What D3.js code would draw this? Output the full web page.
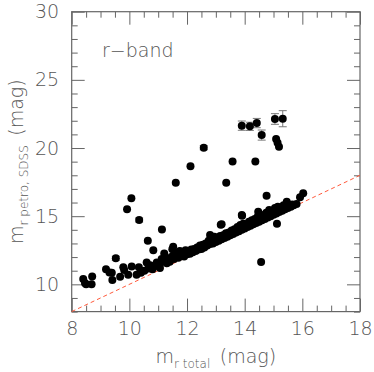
<!DOCTYPE html>
<html>
<head>
<meta charset="utf-8">
<script src="https://cdn.jsdelivr.net/npm/d3@7"></script>
<style>
  body { margin: 0; background: #fff; }
  text { font-family: "DejaVu Sans", sans-serif; font-weight: 200; fill: #555; }
</style>
</head>
<body>
<script>
// main band of galaxies (m_r total, m_r petro SDSS)
const bandTotal = [8.40,8.46,8.50,8.71,8.69,9.19,9.31,9.41,9.39,9.68,9.82,9.79,9.96,10.08,10.25,10.33,10.40,10.52,10.60,10.66,10.72,10.80,10.89,10.95,11.06,11.06,11.12,11.21,11.24,11.30,11.35,11.40,11.47,11.49,11.52,11.55,11.60,11.65,11.70,11.75,11.80,11.85,11.90,11.95,12.00,12.05,12.10,12.15,12.20,12.25,12.30,12.35,12.40,12.45,12.50,12.55,12.60,12.65,12.70,12.75,12.80,12.80,12.85,12.90,12.95,13.00,13.05,13.10,13.15,13.20,13.20,13.25,13.30,13.35,13.40,13.45,13.50,13.55,13.60,13.65,13.70,13.75,13.80,13.85,13.90,13.90,13.95,14.00,14.05,14.10,14.15,14.20,14.25,14.30,14.35,14.40,14.45,14.47,14.50,14.55,14.60,14.65,14.70,14.75,14.80,14.85,14.90,14.95,15.00,15.05,15.10,15.15,15.20,15.25,15.30,15.35,15.40,15.46,15.50,15.55,15.60,15.65,15.70,15.80,15.92,16.03];
const bandPetro = [10.40,10.10,10.00,10.58,10.00,11.10,10.86,10.32,10.85,10.55,11.05,11.25,10.70,11.30,10.70,11.25,10.85,11.00,11.60,11.17,11.40,11.10,11.34,11.60,11.49,11.20,11.85,12.27,11.78,11.55,11.90,11.65,12.03,12.57,12.76,11.85,12.10,12.30,11.95,12.45,12.10,12.30,12.05,12.50,12.20,12.40,12.25,12.55,12.35,12.60,12.45,12.70,12.55,12.85,12.60,12.90,12.70,13.00,12.85,13.20,13.62,12.95,13.25,13.00,13.50,13.10,13.40,13.20,13.55,14.40,13.30,13.60,13.40,13.75,13.50,13.80,13.60,13.95,13.70,14.05,13.80,14.20,13.90,14.35,15.08,14.00,14.45,14.10,14.40,14.20,14.60,14.30,14.70,14.40,14.80,14.50,14.95,15.33,14.60,15.10,14.70,15.00,14.80,15.25,14.90,15.45,15.00,15.35,15.10,15.60,15.20,15.70,15.30,15.50,15.40,15.80,15.50,16.06,15.60,15.75,15.70,15.85,15.80,15.90,16.38,16.68];

// outliers without visible error bars
const outTotal = [15.09,15.14,15.19,12.12,13.58,14.37,11.61,13.36,10.07,9.92,11.13,14.76,13.91,13.17,10.64,15.12,14.57,10.83];
const outPetro = [20.66,20.39,20.10,18.66,19.02,19.02,17.46,17.46,16.31,15.50,14.03,16.50,15.04,14.38,13.20,14.45,11.64,12.50];

// points with error bars
const errTotal = [13.90,14.18,14.42,14.59,15.05,15.32,12.58,10.34,9.53];
const errPetro = [21.64,21.59,21.83,20.95,22.13,22.15,20.02,14.72,11.91];
const errSize  = [0.34,0.30,0.34,0.37,0.39,0.59,0.15,0.15,0.15];

const xMajor = [8,10,12,14,16,18];
const yMajor = [10,15,20,25,30];

const width = 374, height = 372;
const axisCol = "#666";

svg = d3.select("body").append("svg")
    .attr("width", width)
    .attr("height", height);

x = d3.scaleLinear().domain([8, 18]).range([71.7, 360]);
y = d3.scaleLinear().domain([8, 30]).range([311.6, 11.7]);

const xMinor = d3.range(8, 18.01, 0.5).filter(v => v % 2 !== 0);
const yMinor = d3.range(8, 30.01, 1).filter(v => v % 5 !== 0);

function styleAxis(g) {
    g.select(".domain").remove();
    g.selectAll("line").attr("stroke", axisCol).attr("stroke-width", 1);
    g.selectAll("text").style("font-size", "19px").attr("fill", "#555");
}

// bottom
svg.append("g").attr("transform", "translate(0," + y.range()[0] + ")")
    .call(d3.axisBottom(x).tickValues(xMajor).tickSize(-13).tickPadding(10).tickFormat(d3.format("d")))
    .call(styleAxis);
svg.append("g").attr("transform", "translate(0," + y.range()[0] + ")")
    .call(d3.axisBottom(x).tickValues(xMinor).tickSize(-6).tickFormat(""))
    .call(styleAxis);
// top
svg.append("g").attr("transform", "translate(0," + y.range()[1] + ")")
    .call(d3.axisTop(x).tickValues(xMajor).tickSize(-13).tickFormat(""))
    .call(styleAxis);
svg.append("g").attr("transform", "translate(0," + y.range()[1] + ")")
    .call(d3.axisTop(x).tickValues(xMinor).tickSize(-6).tickFormat(""))
    .call(styleAxis);
// left
svg.append("g").attr("transform", "translate(" + x.range()[0] + ",0)")
    .call(d3.axisLeft(y).tickValues(yMajor).tickSize(-13).tickPadding(12.5).tickFormat(d3.format("d")))
    .call(styleAxis);
svg.append("g").attr("transform", "translate(" + x.range()[0] + ",0)")
    .call(d3.axisLeft(y).tickValues(yMinor).tickSize(-6).tickFormat(""))
    .call(styleAxis);
// right
svg.append("g").attr("transform", "translate(" + x.range()[1] + ",0)")
    .call(d3.axisRight(y).tickValues(yMajor).tickSize(-13).tickFormat(""))
    .call(styleAxis);
svg.append("g").attr("transform", "translate(" + x.range()[1] + ",0)")
    .call(d3.axisRight(y).tickValues(yMinor).tickSize(-6).tickFormat(""))
    .call(styleAxis);

// frame
svg.append("rect")
    .attr("x", x.range()[0]).attr("y", y.range()[1])
    .attr("width", x.range()[1] - x.range()[0])
    .attr("height", y.range()[0] - y.range()[1])
    .attr("fill", "none").attr("stroke", axisCol).attr("stroke-width", 1.2);

// one-to-one line
svg.append("line")
    .attr("x1", x(8)).attr("y1", y(8))
    .attr("x2", x(18)).attr("y2", y(18))
    .attr("stroke", "#ff5a3c").attr("stroke-width", 1)
    .attr("stroke-dasharray", "4,3");

// error bars
const errData = errTotal.map((v, i) => ({x: v, y: errPetro[i], e: errSize[i]}));
const eb = svg.append("g").attr("stroke", "#777").attr("stroke-width", 1);
errData.forEach(d => {
    eb.append("line").attr("x1", x(d.x)).attr("x2", x(d.x)).attr("y1", y(d.y - d.e)).attr("y2", y(d.y + d.e));
    eb.append("line").attr("x1", x(d.x) - 4).attr("x2", x(d.x) + 4).attr("y1", y(d.y - d.e)).attr("y2", y(d.y - d.e));
    eb.append("line").attr("x1", x(d.x) - 4).attr("x2", x(d.x) + 4).attr("y1", y(d.y + d.e)).attr("y2", y(d.y + d.e));
});

// points
const pts = bandTotal.map((v, i) => [v, bandPetro[i]])
    .concat(outTotal.map((v, i) => [v, outPetro[i]]))
    .concat(errTotal.map((v, i) => [v, errPetro[i]]));

svg.append("g").selectAll("circle")
    .data(pts)
    .join("circle")
    .attr("cx", d => x(d[0]))
    .attr("cy", d => y(d[1]))
    .attr("r", 4)
    .attr("fill", "#000");

// labels
svg.append("text")
    .attr("x", 102).attr("y", 57)
    .style("font-size", "19px")
    .text("r\u2212band");

xl = svg.append("text")
    .attr("x", (x.range()[0] + x.range()[1]) / 2).attr("y", 363)
    .attr("text-anchor", "middle")
    .style("font-size", "19px");
xl.append("tspan").text("m");
xl.append("tspan").attr("dy", 5).style("font-size", "12px").text("r total");
xl.append("tspan").attr("dy", -5).text("\u2002(mag)");

yl = svg.append("text")
    .attr("transform", "translate(23," + (y.range()[0] + y.range()[1]) / 2 + ") rotate(-90)")
    .attr("text-anchor", "middle")
    .style("font-size", "19px");
yl.append("tspan").text("m");
yl.append("tspan").attr("dy", 4.5).style("font-size", "12px").text("r petro, SDSS");
yl.append("tspan").attr("dy", -4.5).text("\u2002(mag)");
</script>
</body>
</html>
